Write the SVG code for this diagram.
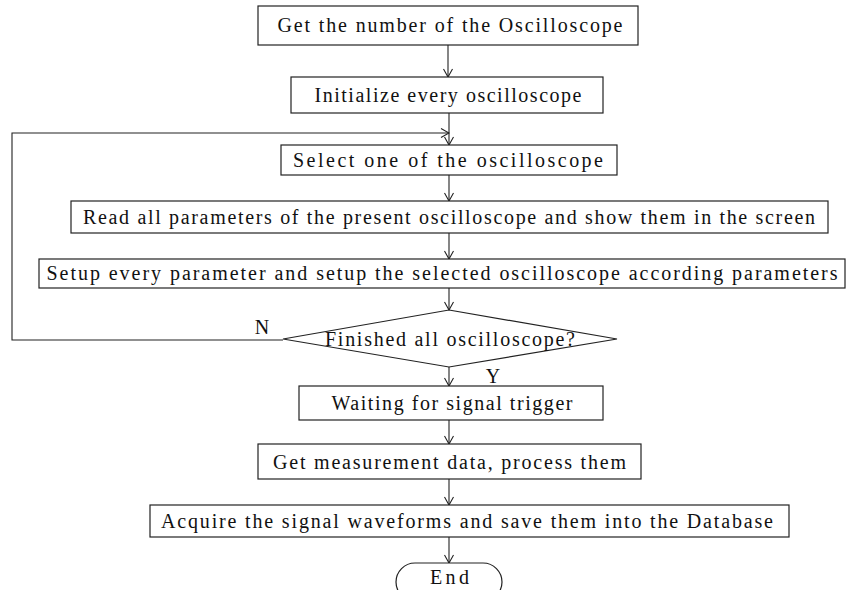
<svg xmlns="http://www.w3.org/2000/svg" width="847" height="590" viewBox="0 0 847 590">
<style>
.box{fill:#fff;stroke:#222;stroke-width:1.2}
text{font-family:'Liberation Serif','Times New Roman',serif;font-size:20px;fill:#111;text-anchor:middle}
.c{fill:none;stroke:#222;stroke-width:1.1}
</style>
<defs>
<marker id="ah" markerWidth="10" markerHeight="10" refX="9" refY="5" orient="auto" markerUnits="userSpaceOnUse">
<path d="M1,0.5 L9,5 L1,9.5" fill="none" stroke="#222" stroke-width="1.1"/>
</marker>
</defs>
<rect width="847" height="590" fill="#fff"/>
<g id="connectors">
<line class="c" x1="448" y1="45" x2="448" y2="77" marker-end="url(#ah)"/>
<line class="c" x1="449" y1="113" x2="449" y2="145" marker-end="url(#ah)"/>
<polyline class="c" points="283,340 12,340 12,133 449,133" marker-end="url(#ah)"/>
<line class="c" x1="449" y1="175" x2="449" y2="201" marker-end="url(#ah)"/>
<line class="c" x1="449" y1="233" x2="449" y2="259" marker-end="url(#ah)"/>
<line class="c" x1="449" y1="288" x2="449" y2="310" marker-end="url(#ah)"/>
<line class="c" x1="449" y1="367" x2="449" y2="386" marker-end="url(#ah)"/>
<line class="c" x1="449" y1="420" x2="449" y2="444" marker-end="url(#ah)"/>
<line class="c" x1="449" y1="479" x2="449" y2="505" marker-end="url(#ah)"/>
<line class="c" x1="449" y1="537" x2="449" y2="563" marker-end="url(#ah)"/>
<text x="262" y="334">N</text>
<text x="493" y="383">Y</text>
</g>
<g id="n1"><rect class="box" x="258" y="6" width="380" height="39"/><text x="450" y="32" textLength="345" lengthAdjust="spacing">Get the number of the Oscilloscope</text></g>
<g id="n2"><rect class="box" x="291" y="77" width="312" height="36"/><text x="448" y="102" textLength="267" lengthAdjust="spacing">Initialize every oscilloscope</text></g>
<g id="n3"><rect class="box" x="281" y="145" width="336" height="30"/><text x="448" y="167" textLength="310" lengthAdjust="spacing">Select one of the oscilloscope</text></g>
<g id="n4"><rect class="box" x="71" y="201" width="757" height="32"/><text x="449" y="224" textLength="732" lengthAdjust="spacing">Read all parameters of the present oscilloscope and show them in the screen</text></g>
<g id="n5"><rect class="box" x="39" y="259" width="806" height="29"/><text x="442" y="280" textLength="791" lengthAdjust="spacing">Setup every parameter  and setup the selected oscilloscope according parameters</text></g>
<g id="n6"><polygon class="box" points="449,310 617,339 449,367 283,339"/><text x="450" y="346" textLength="250" lengthAdjust="spacing">Finished all oscilloscope?</text></g>
<g id="n7"><rect class="box" x="299" y="386" width="304" height="34"/><text x="452" y="410" textLength="241" lengthAdjust="spacing">Waiting for signal trigger</text></g>
<g id="n8"><rect class="box" x="258" y="444" width="383" height="35"/><text x="449.5" y="468.5" textLength="353" lengthAdjust="spacing">Get measurement data, process them</text></g>
<g id="n9"><rect class="box" x="150" y="505" width="639" height="32"/><text x="467" y="528" textLength="612" lengthAdjust="spacing">Acquire the signal waveforms and save them into the Database</text></g>
<g id="n10"><rect class="box" x="396" y="563" width="106" height="38" rx="19" ry="19"/><text x="449.5" y="584" textLength="39" lengthAdjust="spacing">End</text></g>
</svg>
